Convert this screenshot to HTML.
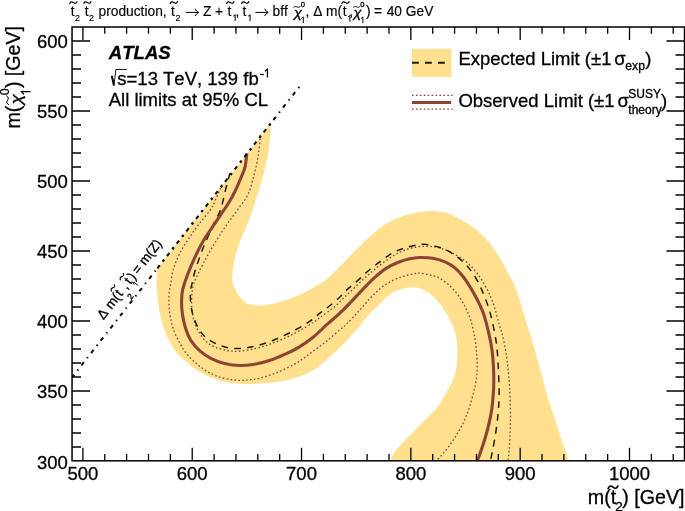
<!DOCTYPE html>
<html><head><meta charset="utf-8"><title>ATLAS limit</title>
<style>
html,body{margin:0;padding:0;background:#fff;}
body{width:685px;height:511px;overflow:hidden;}
g.tt text{stroke-width:0.15px;}
svg{display:block;will-change:transform;transform:translateZ(0);}
text{font-family:"Liberation Sans",sans-serif;fill:#000;stroke:#000;stroke-width:0.3px;font-kerning:none;font-variant-ligatures:none;}
</style></head><body>
<svg width="685" height="511" viewBox="0 0 685 511">
<rect width="685" height="511" fill="#fff"/>
<path d="M270.8,123.3 C270.5,127.3 270.2,139.1 269.1,147.2 C268.0,155.3 266.2,163.7 264.1,172.0 C262.0,180.3 259.1,189.2 256.7,196.8 C254.3,204.4 252.1,211.4 250.0,217.3 C247.9,223.2 246.0,227.1 244.0,232.0 C242.0,236.9 239.7,241.8 238.1,246.7 C236.5,251.6 235.4,256.5 234.4,261.4 C233.4,266.3 232.5,272.6 232.2,276.0 C231.9,279.4 232.2,280.1 232.6,282.0 C233.0,283.9 233.5,285.2 234.4,287.3 C235.3,289.4 236.5,292.4 238.1,294.7 C239.7,297.0 242.2,299.8 244.0,301.3 C245.8,302.9 246.3,303.3 248.8,304.0 C251.3,304.7 255.2,305.4 259.1,305.4 C263.0,305.4 267.9,304.9 272.3,304.0 C276.7,303.1 281.1,301.8 285.5,300.3 C289.9,298.8 293.8,297.4 298.7,295.2 C303.6,292.9 310.1,289.7 315.0,286.8 C319.9,283.9 324.0,281.4 328.2,278.0 C332.4,274.6 336.1,270.2 340.0,266.3 C343.9,262.4 347.8,258.2 351.7,254.3 C355.6,250.4 359.6,246.3 363.5,242.6 C367.4,238.8 371.3,235.0 375.2,231.8 C379.1,228.6 383.1,225.9 387.0,223.5 C390.9,221.1 394.8,219.2 398.7,217.6 C402.6,216.0 406.6,215.0 410.5,214.0 C414.4,213.0 418.3,212.2 422.2,211.7 C426.1,211.2 430.3,210.9 434.0,211.0 C437.7,211.1 441.2,211.6 444.6,212.4 C448.0,213.2 450.2,214.0 454.1,215.9 C458.0,217.8 463.8,220.9 468.2,223.8 C472.6,226.7 476.7,230.0 480.5,233.5 C484.3,237.0 487.9,240.8 491.1,244.9 C494.3,249.0 497.1,253.6 499.9,258.1 C502.7,262.7 505.4,267.8 507.8,272.2 C510.2,276.6 512.3,280.7 514.0,284.6 C515.7,288.5 516.6,291.0 518.1,295.5 C519.6,300.0 521.7,306.9 523.2,311.7 C524.7,316.5 525.4,319.3 526.9,324.2 C528.4,329.1 530.1,334.2 532.2,341.1 C534.3,348.0 537.1,357.9 539.3,365.8 C541.5,373.7 543.6,382.2 545.4,388.7 C547.2,395.2 548.0,398.4 550.0,404.6 C552.0,410.8 555.1,419.6 557.1,425.8 C559.1,432.0 560.6,437.4 562.2,442.0 C563.8,446.6 565.5,450.6 566.6,453.7 C567.7,456.8 568.4,459.2 568.8,460.3 L390.3,460.3 C391.0,459.0 393.0,454.9 394.7,452.3 C396.4,449.7 398.2,447.6 400.6,444.9 C403.1,442.2 406.2,439.3 409.4,436.1 C412.6,432.9 416.2,429.2 419.6,425.8 C423.0,422.4 426.7,419.0 429.9,415.6 C433.1,412.2 436.1,408.9 438.7,405.3 C441.3,401.7 443.0,398.5 445.5,394.0 C448.0,389.5 451.9,383.1 453.8,378.1 C455.7,373.1 456.2,369.1 456.8,364.1 C457.4,359.1 457.5,353.2 457.3,348.2 C457.1,343.2 456.5,338.1 455.6,334.1 C454.8,330.1 453.5,327.4 452.2,324.3 C450.9,321.2 449.2,318.2 447.6,315.5 C446.1,312.8 444.7,310.4 442.9,307.9 C441.1,305.4 439.1,302.6 437.0,300.3 C434.9,298.0 432.6,295.7 430.0,293.8 C427.4,291.9 424.4,290.2 421.7,289.1 C418.9,288.0 416.2,287.5 413.5,287.3 C410.8,287.1 408.0,287.4 405.3,287.9 C402.6,288.4 399.7,289.2 397.1,290.3 C394.6,291.4 392.8,292.5 390.0,294.6 C387.2,296.7 383.8,299.8 380.5,302.9 C377.2,306.0 373.5,309.6 370.0,313.5 C366.5,317.4 362.9,322.3 359.4,326.4 C355.9,330.5 352.3,334.4 348.8,338.2 C345.3,342.0 341.5,346.1 338.2,349.3 C334.9,352.6 332.4,354.6 328.8,357.7 C325.2,360.8 321.0,365.3 316.6,368.2 C312.2,371.1 307.9,373.2 302.6,375.2 C297.3,377.2 290.9,379.1 285.0,380.4 C279.1,381.7 273.3,382.5 267.5,383.1 C261.7,383.7 254.4,383.8 250.0,383.9 C245.6,384.0 244.8,384.2 240.8,383.9 C236.8,383.6 231.0,383.1 226.1,382.1 C221.2,381.1 216.1,379.5 211.4,377.7 C206.8,375.9 202.4,373.7 198.2,371.1 C194.0,368.5 190.1,365.5 186.4,362.3 C182.7,359.1 179.1,355.7 176.2,352.0 C173.3,348.3 170.8,344.0 168.8,340.3 C166.8,336.6 165.6,333.4 164.4,330.0 C163.2,326.6 162.4,323.4 161.5,320.0 C160.6,316.6 159.8,313.6 159.1,309.4 C158.4,305.2 157.8,299.3 157.3,294.7 C156.9,290.1 156.4,286.4 156.4,282.0 C156.4,277.6 157.2,270.7 157.3,268.4 Z" fill="#FFE08F" stroke="none"/>
<path d="M260.4,134.8 C260.1,138.1 259.4,148.1 258.4,154.7 C257.4,161.3 255.9,167.9 254.2,174.5 C252.5,181.1 250.8,188.5 248.0,194.4 C245.2,200.3 240.8,205.2 237.4,210.0 C234.0,214.8 230.9,218.8 227.8,223.2 C224.7,227.6 221.8,232.0 219.0,236.4 C216.2,240.8 213.5,245.2 210.9,249.6 C208.3,254.0 205.8,258.7 203.6,262.9 C201.4,267.1 199.4,271.1 197.7,274.6 C196.0,278.2 194.6,280.9 193.6,284.2 C192.6,287.5 192.2,290.5 191.9,294.7 C191.6,298.9 191.5,305.0 191.9,309.4 C192.3,313.8 193.0,317.4 194.1,321.1 C195.2,324.8 196.6,328.0 198.5,331.4 C200.4,334.8 203.1,338.6 205.8,341.2 C208.5,343.8 211.2,345.5 214.6,347.0 C218.0,348.5 222.5,349.6 226.4,350.3 C230.3,351.0 233.4,351.6 238.1,351.3 C242.8,351.0 249.5,349.9 254.7,348.7 C259.9,347.5 264.5,346.0 269.4,344.3 C274.3,342.6 279.2,340.7 284.1,338.5 C289.0,336.3 293.8,333.8 298.7,331.1 C303.6,328.4 309.8,324.6 313.4,322.3 C316.9,320.0 316.4,320.1 320.0,317.5 C323.6,314.9 329.8,310.6 334.7,306.5 C339.6,302.4 344.5,297.2 349.4,292.6 C354.3,288.0 359.1,283.0 364.0,278.6 C368.9,274.2 373.6,270.1 378.7,266.2 C383.8,262.2 389.6,257.9 394.7,254.9 C399.8,252.0 404.5,249.9 409.4,248.5 C414.3,247.1 419.2,246.4 424.1,246.3 C429.0,246.2 434.1,246.6 438.7,247.7 C443.3,248.8 447.6,250.7 452.0,252.9 C456.4,255.1 461.5,258.2 465.2,261.0 C468.9,263.8 471.4,266.5 474.1,269.6 C476.8,272.7 479.0,275.6 481.4,279.4 C483.8,283.2 486.5,288.0 488.7,292.6 C490.9,297.2 492.9,302.0 494.6,307.3 C496.3,312.6 497.7,319.7 499.0,324.2 C500.3,328.7 501.1,329.5 502.2,334.1 C503.3,338.7 504.8,345.8 505.8,351.7 C506.8,357.6 507.5,363.4 508.1,369.3 C508.7,375.2 509.2,380.3 509.6,387.0 C510.0,393.7 510.3,403.5 510.4,409.7 C510.5,415.9 510.5,419.5 510.4,424.4 C510.3,429.3 510.0,434.6 509.8,439.0 C509.6,443.4 509.4,447.2 509.1,450.8 C508.9,454.4 508.4,458.7 508.3,460.3" fill="none" stroke="#8E4434" stroke-width="1.35" stroke-dasharray="1.6 2.32"/>
<path d="M222.0,184.4 C221.0,186.9 217.8,195.0 215.8,199.3 C213.8,203.6 213.1,205.8 210.2,210.0 C207.3,214.2 202.2,219.8 198.5,224.7 C194.8,229.6 191.4,234.5 188.2,239.4 C185.0,244.3 181.8,249.2 179.4,254.1 C177.0,259.0 175.0,263.7 173.5,268.7 C172.0,273.7 171.3,279.9 170.6,284.2 C169.9,288.5 169.3,291.0 169.1,294.7 C168.8,298.4 168.8,302.5 169.1,306.4 C169.3,310.3 169.8,314.3 170.6,318.2 C171.4,322.1 172.3,326.1 173.7,330.0 C175.1,333.9 177.0,337.8 179.1,341.7 C181.2,345.6 183.5,349.8 186.4,353.5 C189.3,357.2 193.0,360.7 196.7,363.8 C200.4,366.9 204.3,370.0 208.5,372.3 C212.7,374.6 217.0,376.4 221.7,377.7 C226.3,379.0 232.0,379.8 236.4,380.2 C240.8,380.6 244.2,380.2 248.1,379.9 C252.0,379.6 255.2,379.4 260.0,378.2 C264.8,377.0 271.3,374.8 277.0,372.5 C282.7,370.2 289.7,366.7 294.3,364.2 C298.9,361.7 300.9,360.1 304.6,357.5 C308.3,354.9 312.5,351.6 316.4,348.7 C320.3,345.8 324.2,343.1 328.1,339.9 C332.0,336.7 336.9,332.2 340.0,329.6 C343.1,327.0 343.4,327.2 346.4,324.2 C349.4,321.2 354.3,316.0 358.2,311.7 C362.1,307.4 366.0,302.6 369.9,298.5 C373.8,294.4 377.8,290.5 381.7,287.4 C385.6,284.3 389.5,282.1 393.4,280.1 C397.3,278.2 401.5,276.8 405.2,275.7 C408.9,274.6 412.9,273.9 415.4,273.5 C417.9,273.1 417.6,272.9 420.0,273.2 C422.4,273.4 426.6,274.1 430.0,275.0 C433.4,275.9 436.9,276.7 440.3,278.6 C443.7,280.6 447.4,283.6 450.6,286.7 C453.8,289.8 456.8,293.3 459.4,297.0 C462.0,300.7 464.2,305.0 466.0,308.7 C467.8,312.4 469.0,314.8 470.4,319.0 C471.8,323.2 473.1,329.2 474.1,334.1 C475.1,339.0 475.7,343.2 476.2,348.2 C476.7,353.2 477.2,358.8 477.2,364.1 C477.2,369.4 476.9,374.9 476.2,379.9 C475.5,384.9 474.3,389.5 473.2,394.0 C472.1,398.5 470.9,402.6 469.6,406.7 C468.3,410.8 466.9,414.6 465.2,418.5 C463.5,422.4 461.5,426.3 459.3,430.2 C457.1,434.1 454.7,438.1 452.0,442.0 C449.3,445.9 445.7,450.6 443.1,453.7 C440.5,456.8 437.6,459.2 436.5,460.3" fill="none" stroke="#8E4434" stroke-width="1.35" stroke-dasharray="1.6 2.32"/>
<path d="M229.9,173.3 C229.3,175.4 228.1,179.9 226.5,186.0 C224.9,192.1 222.5,204.1 220.5,210.0 C218.5,215.9 216.6,217.5 214.6,221.7 C212.6,225.9 210.5,230.8 208.7,235.0 C206.9,239.2 205.2,242.8 203.6,246.7 C202.0,250.6 200.7,254.3 199.2,258.5 C197.7,262.7 195.9,267.8 194.8,271.7 C193.7,275.6 193.1,278.7 192.4,282.0 C191.7,285.3 190.7,288.1 190.4,291.7 C190.1,295.3 190.4,299.8 190.8,303.5 C191.2,307.2 191.7,310.4 192.6,313.8 C193.5,317.2 194.8,320.9 196.3,324.1 C197.8,327.3 199.4,330.3 201.4,332.9 C203.4,335.5 205.8,337.5 208.6,339.5 C211.4,341.5 214.9,343.3 218.2,344.7 C221.5,346.1 225.2,347.2 228.5,347.8 C231.8,348.4 234.8,348.5 238.1,348.5 C241.4,348.5 244.6,348.2 248.1,347.6 C251.6,347.0 255.1,346.2 259.1,345.1 C263.1,344.0 267.9,342.4 272.3,340.7 C276.7,339.0 281.1,336.9 285.5,334.8 C289.9,332.7 294.5,330.5 298.7,328.2 C302.9,325.9 306.9,323.3 310.5,320.8 C314.1,318.3 316.9,315.5 320.0,313.1 C323.1,310.7 325.6,309.1 328.8,306.5 C332.0,303.9 335.9,300.6 339.1,297.7 C342.3,294.8 344.7,291.8 347.9,288.9 C351.1,286.0 354.9,283.0 358.2,280.1 C361.5,277.2 364.4,274.1 367.7,271.3 C371.0,268.5 374.5,265.9 378.0,263.2 C381.5,260.5 385.3,257.5 388.8,255.3 C392.3,253.1 395.4,251.4 399.1,249.9 C402.8,248.4 406.6,247.2 410.8,246.3 C415.0,245.4 419.7,244.2 424.1,244.3 C428.5,244.4 433.2,245.5 437.3,246.7 C441.4,247.8 444.8,249.2 448.5,251.2 C452.2,253.2 456.1,255.9 459.4,258.6 C462.7,261.3 465.6,263.9 468.5,267.5 C471.4,271.1 474.6,275.9 477.0,280.1 C479.4,284.3 481.1,288.3 482.9,292.6 C484.7,296.9 486.5,301.4 488.0,305.8 C489.5,310.2 490.3,313.1 491.7,319.0 C493.1,324.9 495.1,334.5 496.1,341.1 C497.1,347.7 497.4,352.9 497.8,358.8 C498.2,364.7 498.5,370.5 498.7,376.4 C498.9,382.3 499.2,388.4 499.1,394.0 C499.1,399.6 498.8,404.6 498.4,409.7 C498.0,414.8 497.5,419.5 496.9,424.4 C496.3,429.3 495.4,434.6 494.7,439.0 C494.0,443.4 493.2,447.2 492.5,450.8 C491.8,454.4 490.9,458.7 490.6,460.3" fill="none" stroke="#221c08" stroke-width="1.5" stroke-dasharray="6.8 6.1" stroke-dashoffset="0.5"/>
<path d="M246.8,153.4 C246.5,155.7 246.1,162.7 245.0,167.1 C243.9,171.5 241.6,176.0 240.0,180.0 C238.4,184.0 237.1,187.1 235.2,191.0 C233.3,194.9 230.9,199.2 228.4,203.3 C225.9,207.4 222.8,211.5 220.1,215.6 C217.3,219.7 214.6,223.8 211.9,227.9 C209.2,232.0 206.0,236.4 203.7,240.3 C201.4,244.2 200.0,246.8 197.9,251.1 C195.8,255.3 193.1,261.2 191.1,265.8 C189.1,270.4 187.5,274.7 186.0,279.0 C184.5,283.3 183.0,287.6 182.3,291.7 C181.6,295.8 181.6,299.6 181.6,303.5 C181.6,307.4 181.9,310.9 182.6,315.2 C183.3,319.4 184.4,324.8 185.8,329.0 C187.2,333.2 188.5,336.7 190.8,340.3 C193.1,343.9 196.2,347.6 199.6,350.6 C203.0,353.7 207.2,356.5 211.4,358.6 C215.6,360.8 219.9,362.4 224.6,363.5 C229.2,364.6 234.3,365.4 239.3,365.5 C244.3,365.6 249.7,365.0 254.7,364.2 C259.7,363.4 264.5,362.1 269.4,360.5 C274.3,358.9 279.2,356.8 284.1,354.6 C289.0,352.4 293.8,350.2 298.7,347.3 C303.6,344.4 308.6,340.9 313.4,337.0 C318.2,333.1 323.0,328.1 327.3,324.2 C331.6,320.3 335.2,317.6 339.1,313.9 C343.0,310.2 346.9,306.2 350.8,302.1 C354.7,298.1 358.7,293.6 362.6,289.6 C366.5,285.6 370.4,281.4 374.3,277.9 C378.2,274.4 382.2,271.0 386.1,268.4 C390.0,265.8 393.9,264.1 397.8,262.5 C401.7,260.9 406.0,259.6 409.6,258.8 C413.2,258.0 415.7,257.6 419.6,257.5 C423.5,257.4 428.5,257.5 432.9,258.3 C437.3,259.1 442.3,260.7 446.1,262.4 C449.9,264.1 452.6,265.9 455.5,268.4 C458.4,270.9 460.9,273.7 463.8,277.5 C466.7,281.3 470.0,286.8 472.6,291.1 C475.2,295.5 477.2,299.4 479.2,303.6 C481.1,307.8 482.7,311.0 484.3,316.1 C485.9,321.2 487.7,328.5 489.0,334.1 C490.3,339.8 491.3,344.7 492.0,350.0 C492.7,355.3 493.1,360.5 493.4,365.8 C493.7,371.1 493.8,376.8 493.8,381.7 C493.8,386.6 493.6,390.3 493.2,395.0 C492.8,399.7 492.4,404.8 491.7,409.7 C491.0,414.6 490.0,419.3 488.8,424.4 C487.6,429.5 485.9,435.6 484.4,440.5 C482.9,445.4 481.1,450.4 480.0,453.7 C478.9,457.0 477.9,459.2 477.5,460.3" fill="none" stroke="#8E4434" stroke-width="3.1"/>
<path d="M72.5,376.8 L157.3,268.4" fill="none" stroke="#111" stroke-width="2.05" stroke-dasharray="4 5.15 1.4 5.15" stroke-dashoffset="1.2"/>
<path d="M157.3,268.4 L300.5,85.3" fill="none" stroke="#111" stroke-width="2.05" stroke-dasharray="4 5.15 1.4 5.15" stroke-dashoffset="0"/>
<path d="M157.3,268.4 L270.8,123.3" fill="none" stroke="#111" stroke-width="2.15" stroke-dasharray="2.5 13.2" stroke-dashoffset="7.05"/>
<rect x="72.05" y="27.0" width="612.45" height="433.8" fill="none" stroke="#000" stroke-width="1.5"/>
<path d="M82.90,460.80 v-13.0 M82.90,27.00 v13.0 M104.76,460.80 v-6.8 M104.76,27.00 v6.8 M126.63,460.80 v-6.8 M126.63,27.00 v6.8 M148.49,460.80 v-6.8 M148.49,27.00 v6.8 M170.36,460.80 v-6.8 M170.36,27.00 v6.8 M192.22,460.80 v-13.0 M192.22,27.00 v13.0 M214.08,460.80 v-6.8 M214.08,27.00 v6.8 M235.95,460.80 v-6.8 M235.95,27.00 v6.8 M257.81,460.80 v-6.8 M257.81,27.00 v6.8 M279.68,460.80 v-6.8 M279.68,27.00 v6.8 M301.54,460.80 v-13.0 M301.54,27.00 v13.0 M323.40,460.80 v-6.8 M323.40,27.00 v6.8 M345.27,460.80 v-6.8 M345.27,27.00 v6.8 M367.13,460.80 v-6.8 M367.13,27.00 v6.8 M389.00,460.80 v-6.8 M389.00,27.00 v6.8 M410.86,460.80 v-13.0 M410.86,27.00 v13.0 M432.72,460.80 v-6.8 M432.72,27.00 v6.8 M454.59,460.80 v-6.8 M454.59,27.00 v6.8 M476.45,460.80 v-6.8 M476.45,27.00 v6.8 M498.32,460.80 v-6.8 M498.32,27.00 v6.8 M520.18,460.80 v-13.0 M520.18,27.00 v13.0 M542.04,460.80 v-6.8 M542.04,27.00 v6.8 M563.91,460.80 v-6.8 M563.91,27.00 v6.8 M585.77,460.80 v-6.8 M585.77,27.00 v6.8 M607.64,460.80 v-6.8 M607.64,27.00 v6.8 M629.50,460.80 v-13.0 M629.50,27.00 v13.0 M651.36,460.80 v-6.8 M651.36,27.00 v6.8 M673.23,460.80 v-6.8 M673.23,27.00 v6.8 M72.05,447.00 h9.0 M684.50,447.00 h-9.0 M72.05,433.00 h9.0 M684.50,433.00 h-9.0 M72.05,419.00 h9.0 M684.50,419.00 h-9.0 M72.05,405.00 h9.0 M684.50,405.00 h-9.0 M72.05,391.00 h18.0 M684.50,391.00 h-18.0 M72.05,377.00 h9.0 M684.50,377.00 h-9.0 M72.05,363.00 h9.0 M684.50,363.00 h-9.0 M72.05,349.00 h9.0 M684.50,349.00 h-9.0 M72.05,335.00 h9.0 M684.50,335.00 h-9.0 M72.05,321.00 h18.0 M684.50,321.00 h-18.0 M72.05,307.00 h9.0 M684.50,307.00 h-9.0 M72.05,293.00 h9.0 M684.50,293.00 h-9.0 M72.05,279.00 h9.0 M684.50,279.00 h-9.0 M72.05,265.00 h9.0 M684.50,265.00 h-9.0 M72.05,251.00 h18.0 M684.50,251.00 h-18.0 M72.05,237.00 h9.0 M684.50,237.00 h-9.0 M72.05,223.00 h9.0 M684.50,223.00 h-9.0 M72.05,209.00 h9.0 M684.50,209.00 h-9.0 M72.05,195.00 h9.0 M684.50,195.00 h-9.0 M72.05,181.00 h18.0 M684.50,181.00 h-18.0 M72.05,167.00 h9.0 M684.50,167.00 h-9.0 M72.05,153.00 h9.0 M684.50,153.00 h-9.0 M72.05,139.00 h9.0 M684.50,139.00 h-9.0 M72.05,125.00 h9.0 M684.50,125.00 h-9.0 M72.05,111.00 h18.0 M684.50,111.00 h-18.0 M72.05,97.00 h9.0 M684.50,97.00 h-9.0 M72.05,83.00 h9.0 M684.50,83.00 h-9.0 M72.05,69.00 h9.0 M684.50,69.00 h-9.0 M72.05,55.00 h9.0 M684.50,55.00 h-9.0 M72.05,41.00 h18.0 M684.50,41.00 h-18.0 " fill="none" stroke="#000" stroke-width="1.3"/>
<text x="67.9" y="468.9" font-size="18.5px" text-anchor="end">300</text>
<text x="67.9" y="397.7" font-size="18.5px" text-anchor="end">350</text>
<text x="67.9" y="327.7" font-size="18.5px" text-anchor="end">400</text>
<text x="67.9" y="257.7" font-size="18.5px" text-anchor="end">450</text>
<text x="67.9" y="187.7" font-size="18.5px" text-anchor="end">500</text>
<text x="67.9" y="117.7" font-size="18.5px" text-anchor="end">550</text>
<text x="67.9" y="47.7" font-size="18.5px" text-anchor="end">600</text>
<text x="82.9" y="480.0" font-size="18.5px" text-anchor="middle">500</text>
<text x="192.2" y="480.0" font-size="18.5px" text-anchor="middle">600</text>
<text x="301.5" y="480.0" font-size="18.5px" text-anchor="middle">700</text>
<text x="410.9" y="480.0" font-size="18.5px" text-anchor="middle">800</text>
<text x="520.2" y="480.0" font-size="18.5px" text-anchor="middle">900</text>
<text x="629.5" y="480.0" font-size="18.5px" text-anchor="middle">1000</text>
<text x="684.6" y="504.3" font-size="19.7px" text-anchor="end">) [GeV]</text>
<text x="615.3" y="510.9" font-size="13.6px" >2</text>
<text x="616.2" y="504.3" font-size="19.7px" text-anchor="end">m(t</text>
<path d="M608.10,488.55 c1.18,-2.97 2.94,-2.97 4.90,-1.35 s3.72,1.62 4.90,-1.35" fill="none" stroke="#000" stroke-width="1.6" stroke-linecap="round"/>
<g transform="translate(20.1,26.0) rotate(-90)">
<text x="0" y="0" font-size="19.7px" text-anchor="end">[GeV]</text>
<text x="-62.0" y="0" font-size="19.7px" >)</text>
<path d="M-68.40,3.70 L-65.61,1.40 V10.40" fill="none" stroke="#000" stroke-width="1.25" stroke-linejoin="miter"/>
<text x="-69.3" y="-10.8" font-size="12.5px" >0</text>
<text transform="translate(-78.5,2.2) scale(1.1,1)" font-size="17.1px" font-family="Liberation Serif" font-style="italic">χ</text>
<text x="-79.6" y="0" font-size="19.7px" text-anchor="end">m(</text>
<path d="M-78.60,-11.60 c1.03,-1.98 2.58,-1.98 4.30,-0.90 s3.27,1.08 4.30,-0.90" fill="none" stroke="#000" stroke-width="1.0" stroke-linecap="round"/>
</g>
<g class="tt" transform="scale(0.945,1)">
<text x="74.81" y="16.3" font-size="14.6px" >t</text>
<text x="79.47" y="21.0" font-size="9.4px" >2</text>
<text x="89.63" y="16.3" font-size="14.6px" >t</text>
<text x="94.29" y="21.0" font-size="9.4px" >2</text>
<text x="181.06" y="16.3" font-size="14.6px" >t</text>
<text x="185.71" y="21.0" font-size="9.4px" >2</text>
<text x="104.23" y="16.3" font-size="14.6px" >production,</text>
<text x="214.71" y="16.3" font-size="14.6px" >Z</text>
<text x="227.62" y="16.3" font-size="14.6px" >+</text>
<text x="240.85" y="16.3" font-size="14.6px" >t</text>
<text x="256.61" y="16.3" font-size="14.6px" >t</text>
<text x="249.1" y="16.3" font-size="14.6px" >,</text>
<text x="288.36" y="16.3" font-size="14.6px" >bff</text>
<text x="323.17" y="16.3" font-size="14.6px" >,</text>
<text x="331.53" y="16.3" font-size="14.6px" >Δ</text>
<text x="345.08" y="16.3" font-size="14.6px" >m(</text>
<text x="362.75" y="16.3" font-size="14.6px" >t</text>
<text x="369.63" y="16.3" font-size="14.6px" >,</text>
<text x="387.3" y="16.3" font-size="14.6px" >)</text>
<text x="395.77" y="16.3" font-size="14.6px" >=</text>
<text x="409.21" y="16.3" font-size="14.6px" >40 GeV</text>
</g>
<path d="M69.80,3.45 c0.86,-1.87 2.16,-1.87 3.60,-0.85 s2.74,1.02 3.60,-0.85" fill="none" stroke="#000" stroke-width="1.25" stroke-linecap="round"/>
<path d="M83.80,3.45 c0.86,-1.87 2.16,-1.87 3.60,-0.85 s2.74,1.02 3.60,-0.85" fill="none" stroke="#000" stroke-width="1.25" stroke-linecap="round"/>
<path d="M170.20,3.45 c0.86,-1.87 2.16,-1.87 3.60,-0.85 s2.74,1.02 3.60,-0.85" fill="none" stroke="#000" stroke-width="1.25" stroke-linecap="round"/>
<path d="M186.0,12.4 H198.3 M195.0,8.8 Q196.4,11.5 198.6,12.4 Q196.4,13.3 195.0,16.0" fill="none" stroke="#000" stroke-width="1.0"/>
<path d="M233.20,16.25 L235.18,14.70 V21.00" fill="none" stroke="#000" stroke-width="1.0" stroke-linejoin="miter"/>
<path d="M226.70,3.45 c0.86,-1.87 2.16,-1.87 3.60,-0.85 s2.74,1.02 3.60,-0.85" fill="none" stroke="#000" stroke-width="1.25" stroke-linecap="round"/>
<path d="M248.10,16.25 L250.08,14.70 V21.00" fill="none" stroke="#000" stroke-width="1.0" stroke-linejoin="miter"/>
<path d="M241.60,3.45 c0.86,-1.87 2.16,-1.87 3.60,-0.85 s2.74,1.02 3.60,-0.85" fill="none" stroke="#000" stroke-width="1.25" stroke-linecap="round"/>
<path d="M255.4,12.4 H267.9 M264.6,8.8 Q266.0,11.5 268.2,12.4 Q266.0,13.3 264.6,16.0" fill="none" stroke="#000" stroke-width="1.0"/>
<text transform="translate(294.0,17.3) scale(1.15,1)" font-size="12.6px" font-family="Liberation Serif" font-style="italic">χ</text>
<path d="M301.30,18.45 L303.28,16.90 V23.20" fill="none" stroke="#000" stroke-width="1.0" stroke-linejoin="miter"/>
<text x="300.7" y="6.6" font-size="7.6px" >0</text>
<path d="M293.70,7.35 c0.79,-0.99 1.98,-0.99 3.30,-0.45 s2.51,0.54 3.30,-0.45" fill="none" stroke="#000" stroke-width="0.9" stroke-linecap="round"/>
<text transform="translate(353.59999999999997,17.3) scale(1.15,1)" font-size="12.6px" font-family="Liberation Serif" font-style="italic">χ</text>
<path d="M360.90,18.45 L362.88,16.90 V23.20" fill="none" stroke="#000" stroke-width="1.0" stroke-linejoin="miter"/>
<text x="360.29999999999995" y="6.6" font-size="7.6px" >0</text>
<path d="M353.30,7.35 c0.79,-0.99 1.98,-0.99 3.30,-0.45 s2.51,0.54 3.30,-0.45" fill="none" stroke="#000" stroke-width="0.9" stroke-linecap="round"/>
<path d="M347.90,17.05 L349.88,15.50 V21.80" fill="none" stroke="#000" stroke-width="1.0" stroke-linejoin="miter"/>
<path d="M341.90,3.45 c0.86,-1.87 2.16,-1.87 3.60,-0.85 s2.74,1.02 3.60,-0.85" fill="none" stroke="#000" stroke-width="1.25" stroke-linecap="round"/>
<text x="108.8" y="58.6" font-size="18.6px" font-weight="bold" font-style="italic">ATLAS</text>
<path d="M111.0,76.6 L112.0,75.9 L113.9,85.6 L115.9,69.5 L126.8,69.5" fill="none" stroke="#000" stroke-width="0.9"/>
<path d="M111.9,76.0 L113.8,85.2" fill="none" stroke="#000" stroke-width="1.9"/>
<text x="117.3" y="84.7" font-size="18.5px" >s=13 TeV, 139 fb</text>
<path d="M260.1,74.5 H263.8" stroke="#000" stroke-width="1.25" fill="none"/>
<path d="M264.90,71.35 L267.42,69.30 V77.40" fill="none" stroke="#000" stroke-width="1.3" stroke-linejoin="miter"/>
<text x="108.7" y="106.0" font-size="18.5px" >All limits at 95% CL</text>
<rect x="412" y="48.8" width="39.5" height="28" fill="#FFE08F"/>
<path d="M412,62.8 H450" stroke="#221c08" stroke-width="1.9" stroke-dasharray="6.8 6.2" fill="none"/>
<path d="M412,102.45 H451.2" stroke="#8E4434" stroke-width="3.1" fill="none"/>
<path d="M412,95.3 H452.6 M412,109.1 H452.6" stroke="#8E4434" stroke-width="1.35" stroke-dasharray="1.6 2.32" fill="none"/>
<text x="458.4" y="65.4" font-size="18.5px" >Expected Limit (±1</text>
<text x="614.2" y="65.4" font-size="18.5px" >σ</text>
<text x="625.3" y="70.1" font-size="12.2px" >exp</text>
<text x="645.2" y="65.4" font-size="18.5px" >)</text>
<text x="458.4" y="107.0" font-size="18.5px" >Observed Limit (±1</text>
<text x="617.5" y="107.0" font-size="18.5px" >σ</text>
<text x="628.3" y="98.0" font-size="12px" >SUSY</text>
<text x="628.3" y="113.9" font-size="12px" >theory</text>
<text x="661.0" y="107.0" font-size="18.5px" >)</text>
<g transform="translate(104.5,319.0) rotate(-52.5)">
<text x="-1.6" y="0" font-size="13.4px" >Δ</text>
<text x="11.3" y="0" font-size="13.4px" >m(</text>
<text x="27.6" y="0" font-size="13.4px" >t</text>
<text x="31.4" y="9.6" font-size="8.5px" >2</text>
<path d="M26.40,-11.50 c0.82,-1.76 2.04,-1.76 3.40,-0.80 s2.58,0.96 3.40,-0.80" fill="none" stroke="#000" stroke-width="1.15" stroke-linecap="round"/>
<text x="36.6" y="0" font-size="13.4px" >,</text>
<text x="42.9" y="0" font-size="13.4px" >t</text>
<path d="M45.30,2.12 L47.04,0.80 V6.30" fill="none" stroke="#000" stroke-width="0.9" stroke-linejoin="miter"/>
<path d="M40.80,-11.20 c0.82,-1.76 2.04,-1.76 3.40,-0.80 s2.58,0.96 3.40,-0.80" fill="none" stroke="#000" stroke-width="1.15" stroke-linecap="round"/>
<text x="48.6" y="0" font-size="13.4px" >)</text>
<text x="55.4" y="0" font-size="13.4px" >=</text>
<text x="66.8" y="0" font-size="13.4px" >m(Z)</text>
</g>
</svg>
</body></html>
